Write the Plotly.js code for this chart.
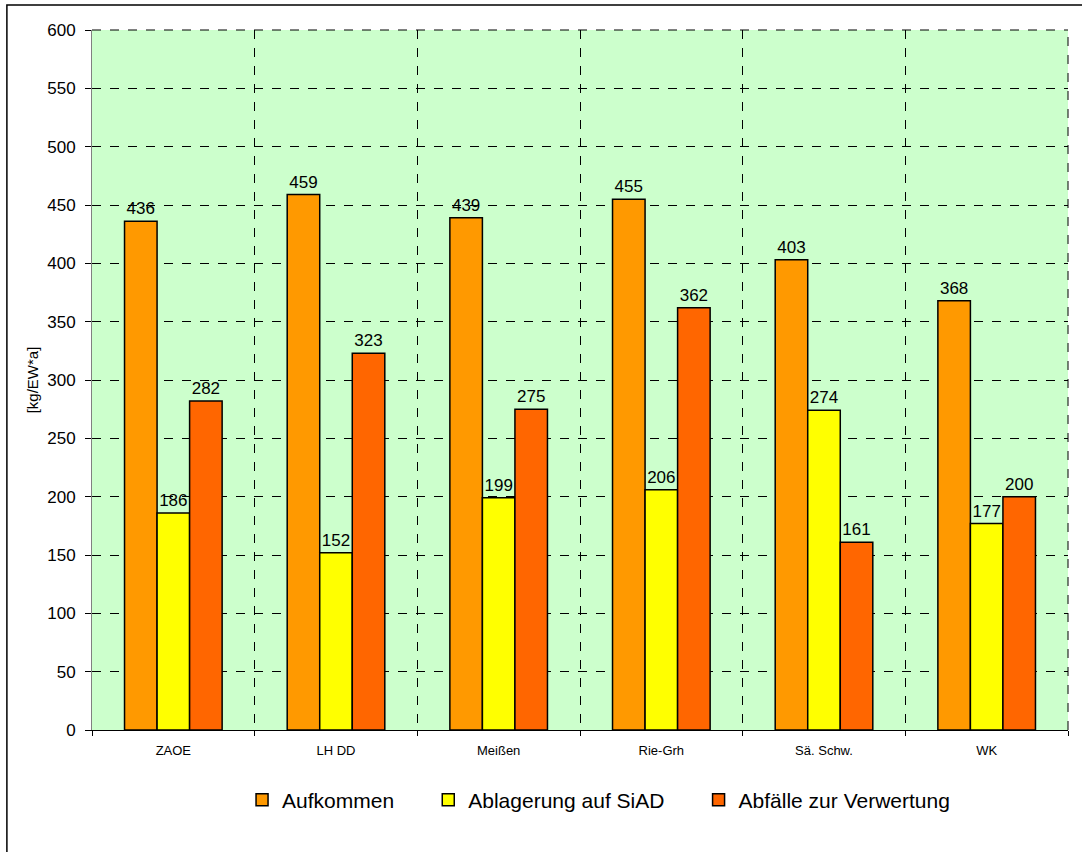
<!DOCTYPE html>
<html>
<head>
<meta charset="utf-8">
<script src="https://cdn.plot.ly/plotly-3.0.1.min.js"></script>
<style>html,body{margin:0;padding:0;background:#fff;}#chart{width:1082px;height:852px;}</style>
</head>
<body>
<div id="chart"></div>
<script>
var categories = ["ZAOE", "LH DD", "Meißen", "Rie-Grh", "Sä. Schw.", "WK"];
var aufkommen = [436, 459, 439, 455, 403, 368];
var ablagerung = [186, 152, 199, 206, 274, 177];
var verwertung = [282, 323, 275, 362, 161, 200];
var seriesNames = ["Aufkommen", "Ablagerung auf SiAD", "Abfälle zur Verwertung"];
var yTicks = [0, 50, 100, 150, 200, 250, 300, 350, 400, 450, 500, 550, 600];

var colors = ["#FF9900", "#FFFF00", "#FF6600"];
var seriesVals = [aufkommen, ablagerung, verwertung];
var pad = "\u00a0\u00a0\u00a0\u00a0\u00a0";
var traces = seriesVals.map(function (vals, i) {
  return {
    type: "bar",
    name: seriesNames[i] + (i < seriesNames.length - 1 ? pad : ""),
    x: categories,
    y: vals,
    text: vals.map(String),
    textposition: "outside",
    cliponaxis: false,
    textfont: {family: "Liberation Sans, Arial, sans-serif", size: 17, color: "#000"},
    marker: {color: colors[i], line: {color: "#000", width: 1.5}}
  };
});

var layout = {
  width: 1082, height: 852,
  margin: {l: 92, r: 14, t: 30, b: 122},
  paper_bgcolor: "#fff",
  plot_bgcolor: "#CCFFCC",
  barmode: "group",
  bargap: 0.4,
  bargroupgap: 0,
  font: {family: "Liberation Sans, Arial, sans-serif", color: "#000"},
  showlegend: true,
  legend: {
    orientation: "h", x: 0.519, xanchor: "center", y: -0.1, yanchor: "middle",
    font: {size: 21, color: "#000"}, itemwidth: 30, traceorder: "normal"
  },
  xaxis: {
    type: "category",
    range: [-0.5, 5.5],
    tickson: "boundaries",
    ticks: "outside", ticklen: 5, tickcolor: "#000",
    showgrid: true, gridcolor: "#000", griddash: "dash", gridwidth: 1,
    showline: true, linecolor: "#000", linewidth: 1,
    tickfont: {size: 13, color: "#000"},
    ticklabelstandoff: 8,
    zeroline: false
  },
  yaxis: {
    range: [0, 600],
    tickvals: yTicks,
    ticktext: yTicks.map(String),
    ticks: "outside", ticklen: 6, tickcolor: "#000",
    showgrid: true, gridcolor: "#000", griddash: "dash", gridwidth: 1,
    showline: true, linecolor: "#808080", linewidth: 1,
    zeroline: false,
    tickfont: {size: 17, color: "#000"},
    ticklabelstandoff: 6,
    title: {text: "[kg/EW*a]", font: {size: 15, color: "#000"}, standoff: 4}
  },
  shapes: [
    {type: "rect", xref: "paper", yref: "paper", x0: -0.0872, x1: 1.2, y0: -0.5, y1: 1.0357,
     line: {color: "#000", width: 1.5}, fillcolor: "rgba(0,0,0,0)", layer: "below"},
    {type: "line", xref: "paper", yref: "paper", x0: 1, x1: 1, y0: 0, y1: 1,
     line: {color: "#000", width: 1, dash: "dash"}},
    {type: "line", xref: "paper", yref: "paper", x0: 0, x1: 1, y0: 1, y1: 1,
     line: {color: "#000", width: 1, dash: "dash"}}
  ]
};

Plotly.newPlot("chart", traces, layout, {displayModeBar: false, staticPlot: true});
</script>
</body>
</html>
